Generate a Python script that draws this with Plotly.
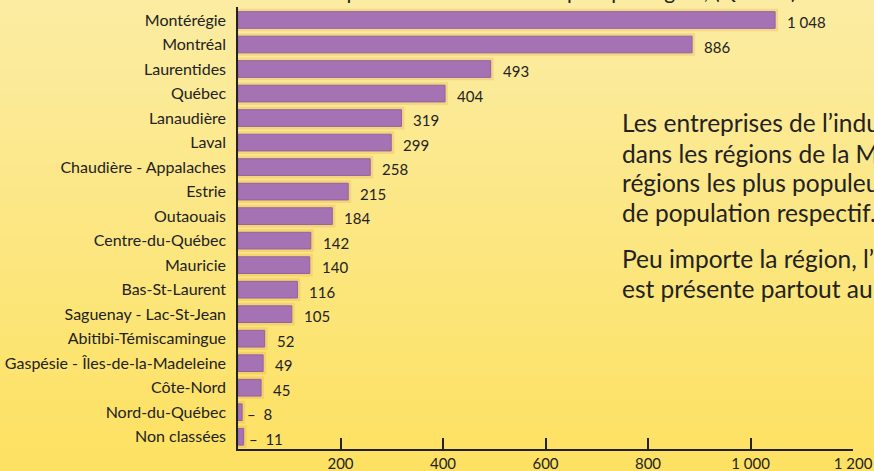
import plotly.graph_objects as go

# ── Données ───────────────────────────────────────────────────────────────────
regions = [
    "Montérégie", "Montréal", "Laurentides", "Québec", "Lanaudière", "Laval",
    "Chaudière - Appalaches", "Estrie", "Outaouais", "Centre-du-Québec",
    "Mauricie", "Bas-St-Laurent", "Saguenay - Lac-St-Jean",
    "Abitibi-Témiscamingue", "Gaspésie - Îles-de-la-Madeleine", "Côte-Nord",
    "Nord-du-Québec", "Non classées",
]
entreprises = [1048, 886, 493, 404, 319, 299, 258, 215, 184, 142, 140, 116,
               105, 52, 49, 45, 8, 11]

x_ticks = [200, 400, 600, 800, 1000, 1200]
x_tick_labels = ["200", "400", "600", "800", "1 000", "1 200"]

titre = "Nombre d'entreprises de l'industrie du sport par région, (Québec)"
lignes_texte = [
    "Les entreprises de l’industrie sont concentrées",
    "dans les régions de la Montérégie et de Montréal,",
    "régions les plus populeuses, compte tenu de leur poids",
    "de population respectif.",
    "Peu importe la région, l’industrie",
    "est présente partout au Québec.",
]

# ── Constantes de style ───────────────────────────────────────────────────────
FONT = "Lato"
INK = "#222222"
BAR = "#A573B3"
BAR_EDGE = "#94619F"
W, H = 874, 471
L, R, T, B = 238, 21, 7, 22
TEXTE_Y_PX = [123, 153, 182, 212, 258, 288]   # centre de chaque ligne


def _fmt(v):
    s = f"{v:,}".replace(",", " ")
    return s if v >= 20 else "–  " + s


fig = go.Figure()

# halo des barres
fig.add_trace(go.Bar(
    y=regions, x=entreprises, orientation="h", width=0.68,
    marker=dict(color="rgba(0,0,0,0)",
                line=dict(color="rgba(226,170,90,0.30)", width=6)),
    hoverinfo="skip", showlegend=False,
))
fig.add_trace(go.Bar(
    y=regions, x=entreprises, orientation="h", width=0.68,
    marker=dict(color=BAR, line=dict(color=BAR_EDGE, width=1)),
    showlegend=False,
))

# étiquettes de valeur
for reg, v in zip(regions, entreprises):
    fig.add_annotation(
        x=v, y=reg, text=_fmt(v), showarrow=False,
        xanchor="left", yanchor="middle", xshift=10 if v >= 20 else 3,
        yshift=-2, font=dict(family=FONT, size=15, color=INK),
    )

# fond dégradé (jaune pâle -> jaune)
pw, ph = W - L - R, H - T - B
x0, x1 = -L / pw, 1 + R / pw
y_top, y_bot = 1 + T / ph, -B / ph
top_c, bot_c = (251, 236, 162), (253, 225, 98)
n = 40
for i in range(n):
    f = i / (n - 1)
    c = tuple(round(a + (b - a) * f) for a, b in zip(top_c, bot_c))
    ya = y_top - (y_top - y_bot) * i / n
    yb = y_top - (y_top - y_bot) * (i + 1) / n
    fig.add_shape(type="rect", xref="paper", yref="paper",
                  x0=x0, x1=x1, y0=yb - 0.002, y1=ya + 0.002,
                  fillcolor=f"rgb{c}", line=dict(width=0), layer="below")

# titre (coupé en haut)
fig.add_annotation(
    x=(200 - L) / pw, y=1 + (T - 5) / ph, xref="paper", yref="paper",
    xanchor="left", yanchor="bottom", showarrow=False, text=titre,
    font=dict(family=FONT, size=21, color=INK),
)

# commentaires, une ligne par annotation
for ligne, py in zip(lignes_texte, TEXTE_Y_PX):
    fig.add_annotation(
        x=(620 - L) / pw, y=(449 - py) / ph, xref="paper", yref="paper",
        xanchor="left", yanchor="middle", align="left", showarrow=False,
        text=ligne, font=dict(family=FONT, size=24.5, color=INK),
    )

fig.update_layout(
    width=W, height=H,
    margin=dict(l=L, r=R, t=T, b=B),
    barmode="overlay",
    paper_bgcolor="#FCE684",
    plot_bgcolor="rgba(0,0,0,0)",
    font=dict(family=FONT, size=16, color=INK),
    xaxis=dict(
        range=[0, 1200], tickvals=x_ticks, ticktext=x_tick_labels,
        showgrid=False, zeroline=False, showline=True, automargin=False,
        linecolor=INK, linewidth=1.5,
        ticks="inside", ticklen=11, tickwidth=1.5, tickcolor=INK,
        tickfont=dict(family=FONT, size=15, color=INK),
    ),
    yaxis=dict(
        autorange="reversed", showgrid=False, zeroline=False,
        showline=True, linecolor=INK, linewidth=1.5, ticks="",
        ticklabelstandoff=7, automargin=False,
        tickfont=dict(family=FONT, size=16, color=INK),
    ),
)

fig.write_html(
    "out.html",
    config={"displayModeBar": False},
    post_script="document.body.style.margin='0';"
                "document.body.style.overflow='hidden';",
)
